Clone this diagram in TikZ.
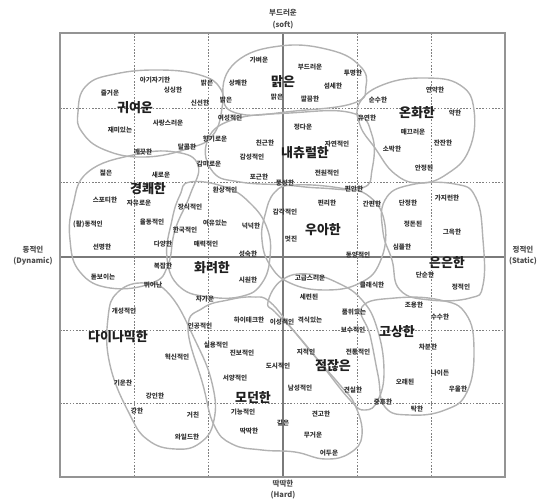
\documentclass[tikz,border=0pt]{standalone}
\usepackage{fontspec}
\setmainfont{Noto Sans CJK KR}
\begin{document}
\begin{tikzpicture}[x=1pt,y=-1pt,
  w/.style={font=\fontsize{6.6}{7}\selectfont\bfseries, text=black!80, inner sep=0.5pt},
  big/.style={font=\fontsize{13}{15}\selectfont\bfseries, text=black!88, inner sep=0.5pt},
  axlab/.style={font=\fontsize{7.5}{9}\selectfont\bfseries, text=black!70, inner sep=0.5pt},
  blob/.style={draw=black!30, line width=1.4pt},
  gridline/.style={draw=black!50, dash pattern=on 1.6pt off 1.6pt, line width=0.5pt},
  axis/.style={draw=black!52, line width=1.3pt},
  frame/.style={draw=black!42, line width=1.8pt}]
\useasboundingbox (0,0) rectangle (542,501);
% grid
\foreach \gx in {134,208,357,431} \draw[gridline] (\gx,33) -- (\gx,477);
\foreach \gy in {108,182,330,403} \draw[gridline] (60,\gy) -- (505,\gy);
\draw[axis] (283,33) -- (283,477);
\draw[axis] (60,257) -- (505,257);
\draw[frame] (60,33) rectangle (505,477);
% blobs
\draw[blob] plot[smooth cycle, tension=0.75] coordinates {(78,112) (86,86) (115,74) (160,70) (200,75) (220,88) (222,108) (213,135) (190,148) (145,157) (105,150) (82,132)};
\draw[blob] plot[smooth cycle, tension=0.75] coordinates {(223,95) (236,62) (280,46) (330,50) (360,66) (366,86) (354,103) (295,111) (240,114)};
\draw[blob] plot[smooth cycle, tension=0.75] coordinates {(360,102) (385,84) (425,78) (460,85) (474,110) (469,150) (447,174) (420,183) (395,174) (375,148) (360,125)};
\draw[blob] plot[smooth cycle, tension=0.75] coordinates {(207,142) (232,120) (290,113) (352,113) (372,135) (372,170) (362,188) (320,188) (285,185) (240,182) (213,172)};
\draw[blob] plot[smooth cycle, tension=0.75] coordinates {(88,172) (133,155) (175,152) (198,165) (190,195) (175,230) (168,265) (152,283) (110,288) (80,272) (70,240) (73,205)};
\draw[blob] plot[smooth cycle, tension=0.75] coordinates {(190,182) (225,187) (250,203) (267,228) (270,257) (262,283) (243,296) (210,297) (180,287) (167,258) (172,220) (180,195)};
\draw[blob] plot[smooth cycle, tension=0.75] coordinates {(265,215) (275,192) (295,185) (340,188) (370,197) (385,225) (380,262) (360,283) (325,290) (290,283) (270,265) (262,240)};
\draw[blob] plot[smooth cycle, tension=0.75] coordinates {(385,200) (410,185) (455,184) (476,198) (483,240) (483,285) (470,298) (430,300) (400,290) (392,260) (383,232)};
\draw[blob] plot[smooth cycle, tension=0.75] coordinates {(268,302) (282,280) (308,274) (338,283) (362,300) (377,328) (384,370) (378,400) (365,410) (350,400) (318,360) (293,330) (275,312)};
\draw[blob] plot[smooth cycle, tension=0.75] coordinates {(362,307) (395,298) (440,300) (466,314) (474,350) (467,392) (445,410) (410,415) (385,407) (378,375) (370,335)};
\draw[blob] plot[smooth cycle, tension=0.75] coordinates {(188,328) (203,308) (228,300) (253,297) (270,302) (293,330) (318,360) (340,385) (355,405) (362,435) (350,453) (325,459) (295,452) (262,450) (232,444) (214,425) (203,385)};
\draw[blob] plot[smooth cycle, tension=0.75] coordinates {(108,318) (118,292) (145,283) (170,295) (195,340) (212,383) (214,420) (200,443) (175,449) (148,440) (130,415) (110,365)};
% axis labels
\node[axlab] (top1) at (283,13) {부드러운};
\node[axlab] (top2) at (283,25) {(soft)};
\node[axlab] (bot1) at (283,484) {딱딱한};
\node[axlab] (bot2) at (283,495) {(Hard)};
\node[axlab] (lef1) at (33,250) {동적인};
\node[axlab] (lef2) at (33,261) {(Dynamic)};
\node[axlab] (rig1) at (523,250) {정적인};
\node[axlab] (rig2) at (523,261) {(Static)};
% cluster names
\foreach \t/\x/\y [count=\i] in {귀여운/135/108, 맑은/283/82, 온화한/417/113, 내츄럴한/305/153, 경쾌한/148/189, 우아한/323/230, 화려한/212/268, 은은한/447/263, 다이나믹한/118/337, 고상한/397/332, 점잖은/333/366, 모던한/253/398}
  \node[big] (c\i) at (\x,\y) {\t};
% words
\foreach \t/\x/\y [count=\i] in {
 아기자기한/155/80, 즐거운/110/93, 싱싱한/173/90, 밝은/207/83, 신선한/200/103, 사랑스러운/168/123, 재미있는/120/130,
 깨끗한/143/152, 달콤한/187/147, 향기로운/215/139, 가벼운/259/60, 부드러운/310/67, 투명한/353/73, 상쾌한/238/83,
 섬세한/333/86, 밝은/226/100, 맑은/277/97, 깔끔한/310/99, 여성적인/230/118, 정다운/303/127, 친근한/265/143,
 자연적인/337/144, 감성적인/252/157, 연약한/435/90, 순수한/378/100, 약한/455/113, 유연한/367/118, 매끄러운/413/132,
 잔잔한/443/143, 소박한/392/149, 안정된/424/168, 감미로운/209/164, 포근한/259/177, 전원적인/327/173, 풍성한/285/183,
 편안한/354/189, 환상적인/225/190, 젊은/106/173, 새로운/161/175, 스포티한/105/200, 자유로운/139/203, 장식적인/190/207,
 {(활)동적인}/88/224, 율동적인/152/222, 한국적인/185/230, 여유있는/215/223, 넉넉한/251/226, 감각적인/285/212,
 편리한/327/203, 간편한/372/204, 단정한/408/203, 가지런한/447/198, 정돈된/413/224, 그윽한/452/232, 심플한/402/247,
 멋진/291/239, 선명한/102/247, 다양한/163/244, 매력적인/206/244, 성숙한/248/254, 동양적인/358/255, 단순한/425/275,
 정적인/461/287, 클래식한/372/285, 복잡한/163/266, 돋보이는/103/277, 뛰어난/153/285, 시원한/248/280, 고급스러운/310/278,
 세련된/309/297, 조용한/414/305, 차가운/205/299, 개성적인/124/311, 품위있는/354/312, 수수한/440/317, 하이테크한/249/320,
 이성적인/282/322, 격식있는/310/320, 인공적인/200/326, 보수적인/353/330, 차분한/428/347, 실용적인/216/345, 진보적인/242/353,
 지적인/306/352, 전통적인/358/352, 혁신적인/177/357, 도시적인/278/366, 서양적인/235/378, 나이든/440/373, 기운찬/123/383,
 오래된/405/382, 남성적인/300/388, 견실한/353/390, 우울한/458/389, 강인한/155/396, 중후한/383/402, 탁한/417/409,
 강한/137/411, 기능적인/243/412, 견고한/321/414, 거친/193/415, 깊은/283/423, 딱딱한/249/431, 무거운/313/435,
 와일드한/187/437, 어두운/329/453}
  \node[w] (w\i) at (\x,\y) {\t};
\end{tikzpicture}
\end{document}
